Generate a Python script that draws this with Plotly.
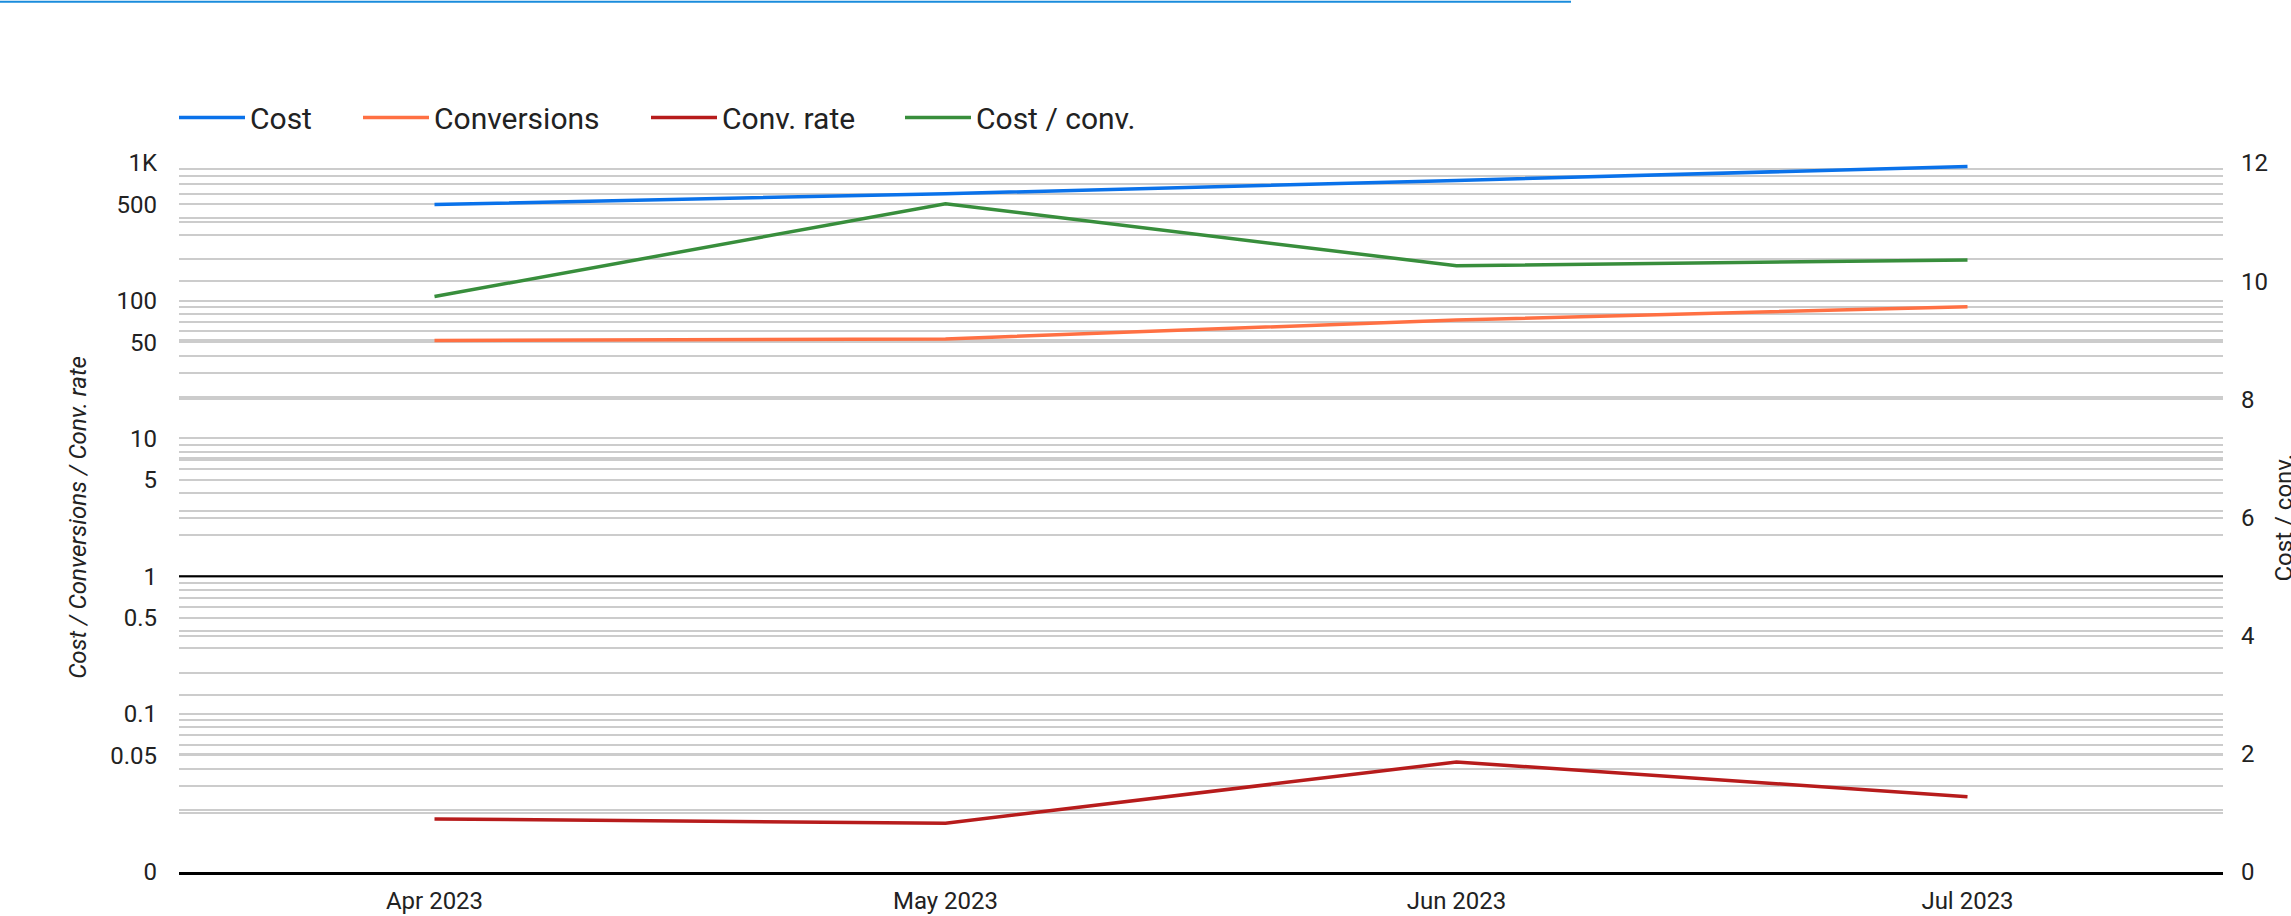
import math
import plotly.graph_objects as go

# ---- data ----
months = ["Apr 2023", "May 2023", "Jun 2023", "Jul 2023"]
cost = [500, 598, 747, 943]
conversions = [51.4, 52.8, 72.5, 90.6]
conv_rate = [0.0173, 0.0161, 0.0448, 0.0251]
cost_per_conv = [9.74, 11.31, 10.26, 10.36]

left_labels = {1000: "1K", 500: "500", 100: "100", 50: "50", 10: "10", 5: "5",
               1: "1", 0.5: "0.5", 0.1: "0.1", 0.05: "0.05"}
right_labels = [0, 2, 4, 6, 8, 10, 12]
log_baseline = 1

colors = {"Cost": "#0a72ea", "Conversions": "#ff7043",
          "Conv. rate": "#b71c1c", "Cost / conv.": "#388e3c"}

# ---- geometry ----
W, H = 2291, 916
ML, MR, MT, MB = 179, 68, 162.5, 43.7
PW = W - ML - MR
PH = H - MT - MB
DEC = 137.9                       # px per decade on left axis
LOG_TOP = 3
LOG_BOT = LOG_TOP - PH / DEC      # where the "0" baseline sits

# left axis grid values: 2..9 x 10^-2, 1..9 x 10^k, 1000
grid_vals = []
for k in range(-2, 3):
    for d in range(1, 10):
        if k == -2 and d < 2:
            continue
        grid_vals.append(round(d * 10 ** k, 6))
grid_vals.append(1000)
tickvals = [10 ** LOG_BOT] + grid_vals
ticktext = ["0"] + [left_labels.get(v, "") for v in grid_vals]

LW = 3.5
fig = go.Figure()
fig.add_trace(go.Scatter(x=months, y=cost, name="Cost", mode="lines",
                         line=dict(color=colors["Cost"], width=LW), legend="legend"))
fig.add_trace(go.Scatter(x=months, y=conversions, name="Conversions", mode="lines",
                         line=dict(color=colors["Conversions"], width=LW), legend="legend2"))
fig.add_trace(go.Scatter(x=months, y=conv_rate, name="Conv. rate", mode="lines",
                         line=dict(color=colors["Conv. rate"], width=LW), legend="legend3"))
fig.add_trace(go.Scatter(x=months, y=cost_per_conv, name="Cost / conv.", mode="lines",
                         line=dict(color=colors["Cost / conv."], width=LW), yaxis="y2",
                         legend="legend4"))

GRID = "#cccccc"
TXT = "#222222"
TICKFONT = dict(family="Roboto", size=24, color=TXT)

leg_common = dict(orientation="h", yanchor="middle", y=(PH + MT - 117) / PH,
                  xanchor="left", font=dict(family="Roboto", size=30, color=TXT),
                  itemwidth=66, bgcolor="rgba(0,0,0,0)", borderwidth=0)
leg_px = [179, 363, 651, 905]

def legx(px):
    return (px - ML - 5) / PW

fig.update_layout(
    width=W, height=H,
    margin=dict(l=ML, r=MR, t=MT, b=MB, autoexpand=False),
    paper_bgcolor="white", plot_bgcolor="white",
    showlegend=True,
    legend=dict(leg_common, x=legx(leg_px[0])),
    legend2=dict(leg_common, x=legx(leg_px[1])),
    legend3=dict(leg_common, x=legx(leg_px[2])),
    legend4=dict(leg_common, x=legx(leg_px[3])),
    xaxis=dict(type="category", range=[-0.5, 3.5], showgrid=False, zeroline=False,
               showline=True, linecolor="black", linewidth=3, ticks="",
               tickfont=TICKFONT, ticklabelstandoff=5),
    yaxis=dict(type="log", range=[LOG_BOT, LOG_TOP], tickmode="array",
               tickvals=tickvals, ticktext=ticktext, showgrid=True,
               gridcolor=GRID, gridwidth=1.5, zeroline=False, showline=False,
               ticks="", tickfont=TICKFONT, ticklabelstandoff=21,
               title=dict(text="<i>Cost / Conversions / Conv. rate</i>",
                          font=dict(family="Roboto", size=24, color=TXT),
                          standoff=16)),
    yaxis2=dict(overlaying="y", side="right", range=[0, 12], tickmode="array",
                tickvals=list(range(0, 13)),
                ticktext=[str(v) if v in right_labels else "" for v in range(0, 13)],
                showgrid=True, gridcolor=GRID, gridwidth=1.5, zeroline=False,
                showline=False, ticks="", tickfont=TICKFONT, ticklabelstandoff=17),
    annotations=[
        dict(text="Cost / conv.", xref="paper", yref="paper",
             x=(2283 - ML) / PW, y=0.5, xanchor="center", yanchor="middle",
             textangle=-90, showarrow=False,
             font=dict(family="Roboto", size=24, color=TXT)),
    ],
    shapes=[
        dict(type="line", xref="paper", yref="y", x0=0, x1=1,
             y0=log_baseline, y1=log_baseline,
             line=dict(color="black", width=2), layer="above"),
        dict(type="line", xref="paper", yref="paper",
             x0=-ML / PW, x1=(1571 - ML) / PW,
             y0=(PH + MT - 1) / PH, y1=(PH + MT - 1) / PH,
             line=dict(color="#1a8cdc", width=2)),
    ],
)

fig.write_html("out.html", config={"displayModeBar": False},
               post_script="document.body.style.margin='0';document.body.style.overflow='hidden';")
